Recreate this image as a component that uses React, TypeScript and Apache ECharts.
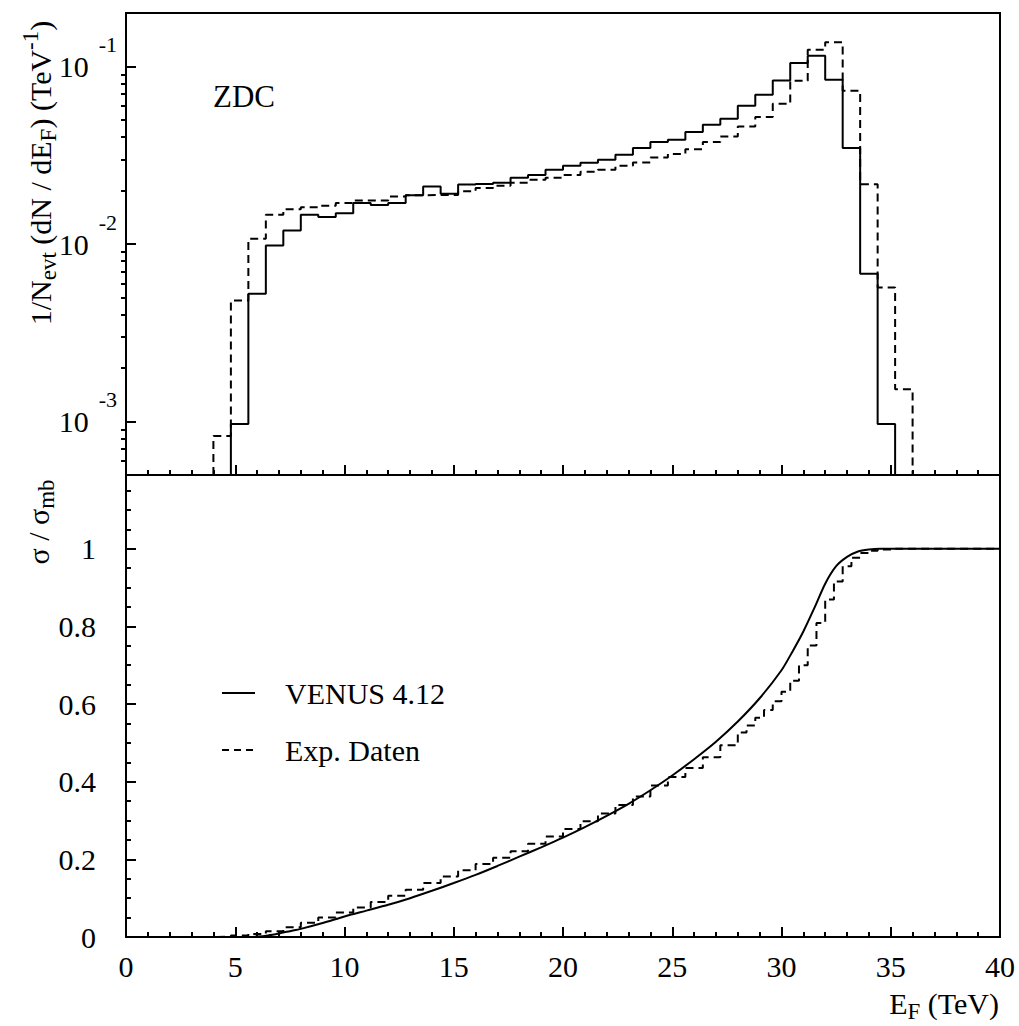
import React, { useEffect, useRef } from 'react';
import * as echarts from 'echarts';

const FONT = '"Liberation Serif", "Times New Roman", serif';

// ---- Top panel: dN/dE_F histograms (bin width 0.8 TeV) ----
const BIN_WIDTH = 0.8;
const venusFirstEdge = 4.8;
const venusDensity = [
  9.7e-4, 5.24e-3, 9.8e-3, 1.19e-2, 1.46e-2, 1.42e-2, 1.49e-2, 1.70e-2, 1.66e-2, 1.70e-2,
  1.88e-2, 2.11e-2, 1.92e-2, 2.16e-2, 2.18e-2, 2.21e-2, 2.36e-2, 2.45e-2, 2.62e-2, 2.76e-2,
  2.87e-2, 2.98e-2, 3.18e-2, 3.47e-2, 3.75e-2, 3.86e-2, 4.27e-2, 4.70e-2, 5.07e-2, 6.01e-2,
  6.93e-2, 8.34e-2, 0.1045, 0.115, 8.41e-2, 3.47e-2, 6.8e-3, 9.7e-4,
];
const expFirstEdge = 4.0;
const expDensity = [
  8.3e-4, 4.8e-3, 1.07e-2, 1.46e-2, 1.57e-2, 1.61e-2, 1.64e-2, 1.70e-2, 1.76e-2, 1.76e-2,
  1.85e-2, 1.88e-2, 1.89e-2, 1.89e-2, 1.98e-2, 2.07e-2, 2.13e-2, 2.21e-2, 2.30e-2, 2.36e-2,
  2.45e-2, 2.55e-2, 2.62e-2, 2.76e-2, 2.88e-2, 3.07e-2, 3.21e-2, 3.42e-2, 3.75e-2, 4.03e-2,
  4.59e-2, 5.19e-2, 6.16e-2, 8.3e-2, 0.124, 0.137, 7.3e-2, 2.17e-2, 5.69e-3, 1.52e-3,
];

// ---- Bottom panel: sigma / sigma_mb ----
const venusCumE = [0, 5.6, 6, 6.5, 7, 7.5, 8, 9, 10, 11, 12, 13, 14, 15, 16, 17, 18, 19, 20, 21, 22, 23, 24, 25, 26, 27, 28, 29, 30, 30.5, 31, 31.5, 32, 32.5, 33, 33.5, 34, 34.5, 40];
const venusCum = [0, 0, 0.001, 0.004, 0.009, 0.015, 0.021, 0.036, 0.053, 0.068, 0.083, 0.1, 0.119, 0.139, 0.16, 0.183, 0.207, 0.231, 0.256, 0.283, 0.312, 0.343, 0.378, 0.416, 0.458, 0.503, 0.555, 0.615, 0.687, 0.735, 0.787, 0.847, 0.91, 0.955, 0.979, 0.993, 0.998, 1, 1];
const expCumE = [0, 4.0, 4.8, 5.6, 6.4, 7.2, 8.0, 8.8, 9.6, 10.4, 11.2, 12.0, 12.8, 13.6, 14.4, 15.2, 16.0, 16.8, 17.6, 18.4, 19.2, 20.0, 20.8, 21.6, 22.4, 23.2, 24.0, 24.8, 25.6, 26.4, 27.2, 28.0, 28.4, 28.8, 29.2, 29.6, 30.0, 30.4, 30.8, 31.2, 31.6, 32.0, 32.4, 32.8, 33.2, 33.6, 34.0, 34.4, 35.2, 40];
const expCum = [0, 0.001, 0.004, 0.008, 0.015, 0.025, 0.037, 0.05, 0.063, 0.076, 0.09, 0.106, 0.122, 0.139, 0.156, 0.172, 0.188, 0.204, 0.221, 0.24, 0.259, 0.278, 0.298, 0.318, 0.34, 0.362, 0.39, 0.412, 0.435, 0.463, 0.494, 0.527, 0.545, 0.565, 0.585, 0.607, 0.632, 0.66, 0.7, 0.751, 0.809, 0.869, 0.916, 0.955, 0.977, 0.989, 0.995, 0.998, 1, 1];

// ---- Axis ticks ----
const logMin = 5e-4;
const logMax = 0.2;
const logMajorTicks = [0.001, 0.01, 0.1];
const logMinorTicks = [6e-4, 7e-4, 8e-4, 9e-4, 2e-3, 3e-3, 4e-3, 5e-3, 6e-3, 7e-3, 8e-3, 9e-3, 2e-2, 3e-2, 4e-2, 5e-2, 6e-2, 7e-2, 8e-2, 9e-2];
const linMajorTicks = [0, 0.2, 0.4, 0.6, 0.8, 1];
const seriesNames = ['VENUS 4.12', 'Exp. Daten'];

function histPoints(first: number, w: number, vals: number[], floor: number) {
  const pts: number[][] = [[first, floor]];
  vals.forEach((v, i) => pts.push([first + i * w, v]));
  const end = first + vals.length * w;
  pts.push([end, vals[vals.length - 1]]);
  pts.push([end, floor]);
  return pts;
}
const zip = (xs: number[], ys: number[]) => xs.map((x, i) => [x, ys[i]]);

const black = '#000';
const DASH = [8, 5];
const solid = { color: black, width: 2, type: 'solid' as const };
const dashed = { color: black, width: 2, type: DASH as any };

function xAxisCfg(gridIndex: number, labels: boolean) {
  return {
    gridIndex,
    type: 'value',
    min: 0,
    max: 40,
    interval: 5,
    axisLine: { show: true, onZero: false, lineStyle: { color: black, width: 2 } },
    axisTick: { show: true, inside: true, length: 10, lineStyle: { color: black, width: 2 } },
    minorTick: { show: true, splitNumber: 5, length: 5, lineStyle: { color: black, width: 2 } },
    splitLine: { show: false },
    minorSplitLine: { show: false },
    axisLabel: {
      show: labels,
      margin: 14,
      color: black,
      fontFamily: FONT,
      fontSize: 30,
    },
  };
}

const legendItems = [
  { name: seriesNames[0], y: 693, dash: null as number[] | null },
  { name: seriesNames[1], y: 750, dash: [7, 5] },
];

const legendGraphics = legendItems.flatMap((it) => [
  {
    type: 'line',
    shape: { x1: 222, y1: it.y, x2: 255, y2: it.y },
    style: { stroke: black, lineWidth: 2, lineDash: it.dash || undefined },
  },
  {
    type: 'text',
    x: 285,
    y: it.y,
    style: { text: it.name, fontFamily: FONT, fontSize: 30, fill: black, align: 'left', verticalAlign: 'middle' },
  },
]);

const option: any = {
  animation: false,
  backgroundColor: '#fff',
  grid: [
    { left: 126, top: 13, width: 874, height: 462, show: true, borderColor: black, borderWidth: 2, backgroundColor: 'transparent', outerBoundsMode: 'none', containLabel: false },
    { left: 126, top: 475, width: 874, height: 462, show: true, borderColor: black, borderWidth: 2, backgroundColor: 'transparent', outerBoundsMode: 'none', containLabel: false },
  ],
  xAxis: [xAxisCfg(0, false), xAxisCfg(1, true)],
  yAxis: [
    {
      gridIndex: 0,
      type: 'log',
      logBase: 10,
      min: logMin,
      max: logMax,
      axisLine: { show: true, onZero: false, lineStyle: { color: black, width: 2 } },
      axisTick: { show: true, inside: true, length: 10, customValues: logMajorTicks, lineStyle: { color: black, width: 2 } },
      splitLine: { show: false },
      axisLabel: {
        customValues: logMajorTicks,
        margin: 9,
        formatter: (v: number) => `{b|10}{e|${Math.round(Math.log10(v))}}`,
        rich: {
          b: { fontFamily: FONT, fontSize: 30, color: black },
          e: { fontFamily: FONT, fontSize: 22, color: black, padding: [0, 0, 44, 10] },
        },
      },
    },
    {
      gridIndex: 0,
      type: 'log',
      logBase: 10,
      min: logMin,
      max: logMax,
      axisLine: { show: false },
      axisTick: { show: true, inside: true, length: 5, customValues: logMinorTicks, lineStyle: { color: black, width: 2 } },
      splitLine: { show: false },
      axisLabel: { show: false },
    },
    {
      gridIndex: 1,
      type: 'value',
      min: 0,
      max: 1.19,
      interval: 0.2,
      axisLine: { show: true, onZero: false, lineStyle: { color: black, width: 2 } },
      axisTick: { show: true, inside: true, length: 10, customValues: linMajorTicks, lineStyle: { color: black, width: 2 } },
      minorTick: { show: true, splitNumber: 4, length: 5, lineStyle: { color: black, width: 2 } },
      splitLine: { show: false },
      minorSplitLine: { show: false },
      axisLabel: {
        customValues: linMajorTicks,
        margin: 30,
        color: black,
        fontFamily: FONT,
        fontSize: 30,
        formatter: (v: number) => String(+v.toFixed(1)),
      },
    },
  ],
  graphic: [
    {
      type: 'text',
      x: 40,
      y: 173,
      rotation: Math.PI / 2,
      style: {
        text: '1/N{s|evt} (dN / dE{s|F}) (TeV{p|-1})',
        fontFamily: FONT,
        fontSize: 30,
        fill: black,
        align: 'center',
        verticalAlign: 'middle',
        rich: {
          s: { fontFamily: FONT, fontSize: 23, fill: black, padding: [16, 0, 0, 0] },
          p: { fontFamily: FONT, fontSize: 23, fill: black, padding: [0, 0, 20, 0] },
        },
      },
    },
    {
      type: 'text',
      x: 38,
      y: 522,
      rotation: Math.PI / 2,
      style: {
        text: 'σ / σ{s|mb}',
        fontFamily: FONT,
        fontSize: 30,
        fill: black,
        align: 'center',
        verticalAlign: 'middle',
        rich: {
          s: { fontFamily: FONT, fontSize: 23, fill: black, padding: [16, 0, 0, 0] },
        },
      },
    },
    {
      type: 'text',
      x: 999,
      y: 1003,
      style: {
        text: 'E{s|F} (TeV)',
        fontFamily: FONT,
        fontSize: 30,
        fill: black,
        align: 'right',
        verticalAlign: 'middle',
        rich: {
          s: { fontFamily: FONT, fontSize: 23, fill: black, padding: [16, 0, 0, 0] },
        },
      },
    },
    {
      type: 'text',
      x: 213,
      y: 96,
      style: { text: 'ZDC', fontFamily: FONT, fontSize: 31, fill: black, align: 'left', verticalAlign: 'middle' },
    },
    ...legendGraphics,
  ],
  series: [
    {
      name: seriesNames[0], type: 'line', xAxisIndex: 0, yAxisIndex: 0, step: 'end', symbol: 'none',
      data: histPoints(venusFirstEdge, BIN_WIDTH, venusDensity, logMin), lineStyle: solid, itemStyle: { color: black },
    },
    {
      name: seriesNames[1], type: 'line', xAxisIndex: 0, yAxisIndex: 0, step: 'end', symbol: 'none',
      data: histPoints(expFirstEdge, BIN_WIDTH, expDensity, logMin), lineStyle: dashed, itemStyle: { color: black },
    },
    {
      name: seriesNames[0], type: 'line', xAxisIndex: 1, yAxisIndex: 2, smooth: 0.25, symbol: 'none',
      data: zip(venusCumE, venusCum), lineStyle: solid, itemStyle: { color: black },
    },
    {
      name: seriesNames[1], type: 'line', xAxisIndex: 1, yAxisIndex: 2, step: 'end', symbol: 'none',
      data: zip(expCumE, expCum), lineStyle: dashed, itemStyle: { color: black },
    },
  ],
};

export default function App() {
  const ref = useRef<HTMLDivElement>(null);
  useEffect(() => {
    if (!ref.current) return;
    const chart = echarts.init(ref.current, null, { renderer: 'svg' });
    chart.setOption(option);
    return () => chart.dispose();
  }, []);
  return (
    <div
      ref={ref}
      style={{ position: 'absolute', left: 0, top: 0, width: 1019, height: 1026, background: '#fff' }}
    />
  );
}
